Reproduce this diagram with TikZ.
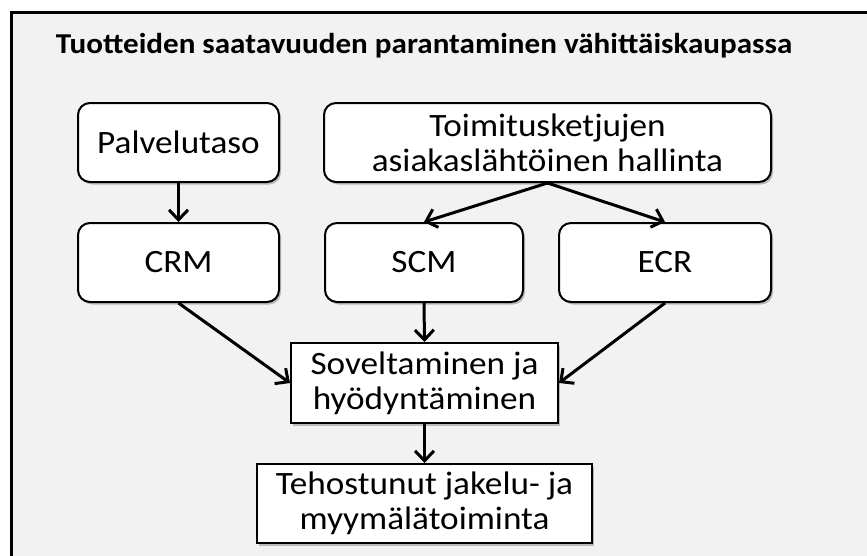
\documentclass[tikz,border=0pt]{standalone}
\usepackage{fontspec}
\setmainfont[FakeStretch=1.08]{Carlito}
\usetikzlibrary{arrows.meta,shadows}

\definecolor{panelgray}{HTML}{F2F2F2}

\tikzset{
  box/.style={draw=black, line width=2pt, fill=white, align=center,
    inner sep=0pt, font=\fontsize{32.6}{35}\selectfont,
    drop shadow={shadow xshift=2pt, shadow yshift=-2.5pt, opacity=0.4, fill=black!60}},
  roundbox/.style={box, rounded corners=12pt},
  flow/.style={line width=3pt, -{Straight Barb[length=10pt, width=19pt, line width=3pt]}},
}

\begin{document}
\begin{tikzpicture}[x=1pt, y=-1pt]
\useasboundingbox (0,0) rectangle (867,555);
\fill[white] (0,0) rectangle (867,555);
\begin{scope}
  \clip (0,0) rectangle (867,555);
  \draw[line width=3pt, fill=panelgray] (11.5,12.5) rectangle (890,580);
\end{scope}

\node[font=\bfseries\fontsize{28.8}{32}\selectfont] (title) at (424,46) {Tuotteiden saatavuuden parantaminen vähittäiskaupassa};

\node[roundbox, minimum width=201pt, minimum height=79pt] (palv) at (178.5,142.5) {Palvelutaso};
\node[roundbox, minimum width=447pt, minimum height=79pt] (toim) at (547.5,142.5) {Toimitusketjujen\\asiakaslähtöinen hallinta};
\node[roundbox, minimum width=201pt, minimum height=79pt] (crm) at (178.5,262.5) {CRM};
\node[roundbox, minimum width=198pt, minimum height=79pt] (scm) at (424,262.5) {SCM};
\node[roundbox, minimum width=212pt, minimum height=79pt] (ecr) at (665,262.5) {ECR};
\node[box, minimum width=267pt, minimum height=80pt] (sov) at (424.5,383) {Soveltaminen ja\\hyödyntäminen};
\node[box, minimum width=335pt, minimum height=79pt] (teh) at (424.5,503.5) {Tehostunut jakelu- ja\\myymälätoiminta};

\draw[flow] (palv.south) -- (crm.north);
\draw[flow] (toim.south) -- (scm.north);
\draw[flow] (toim.south) -- (ecr.north);
\draw[flow] (scm.south) -- (sov.north);
\draw[flow] (crm.south) -- (sov.west);
\draw[flow] (ecr.south) -- (sov.east);
\draw[flow] (sov.south) -- (teh.north);
\end{tikzpicture}
\end{document}
